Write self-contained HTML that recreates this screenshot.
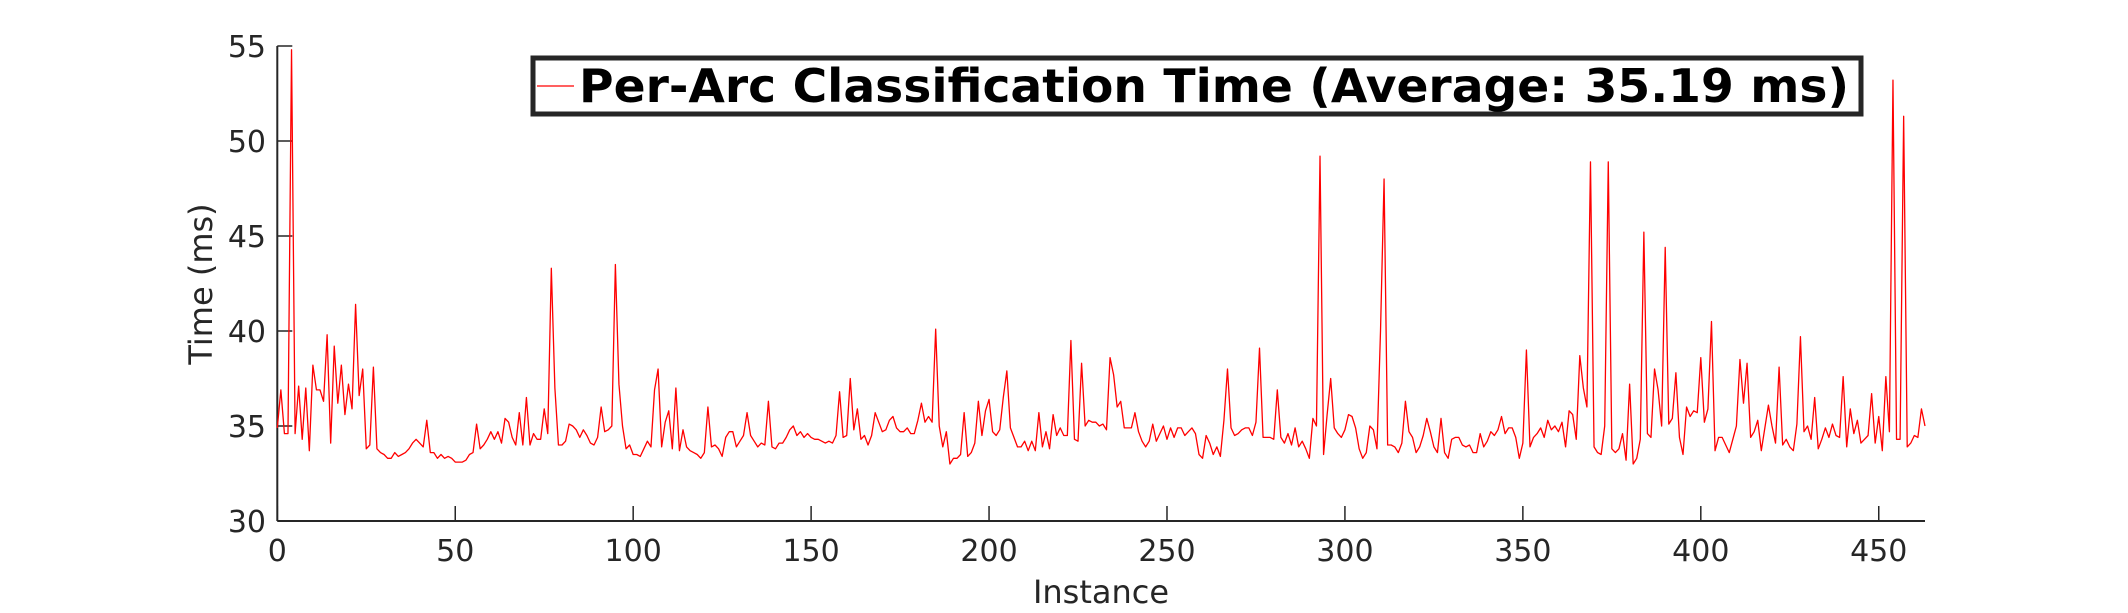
<!DOCTYPE html>
<html><head><meta charset="utf-8"><style>
html,body{margin:0;padding:0;background:#fff;}
svg{display:block;font-family:"DejaVu Sans","Liberation Sans",sans-serif;}
</style></head><body>
<svg id="chart" width="2128" height="613" viewBox="0 0 2128 613" xmlns="http://www.w3.org/2000/svg">
<rect width="2128" height="613" fill="#fff"/>
<g id="axes"></g>
<polyline id="series" fill="none" stroke="#ff0000" stroke-width="1.3" stroke-linejoin="round"/>
<g>
<rect x="533" y="58" width="1328" height="56" fill="#fff" stroke="#262626" stroke-width="5"/>
<line x1="537" y1="86" x2="574" y2="86" stroke="#ff0000" stroke-width="1.3"/>
<text x="579" y="102" font-size="46" font-weight="bold" fill="#000" textLength="1270" lengthAdjust="spacingAndGlyphs">Per-Arc Classification Time (Average: 35.19 ms)</text>
</g>
<text x="0" y="0" transform="translate(212,284) rotate(-90)" text-anchor="middle" font-size="32" fill="#262626">Time (ms)</text>
<text x="1101" y="603" text-anchor="middle" font-size="32" fill="#262626">Instance</text>
</svg>
<script>
const xTicks = [0,50,100,150,200,250,300,350,400,450];
const yTicks = [30,35,40,45,50,55];
const times = [
34.9,36.9,34.6,34.6,54.8,34.6,37.1,34.3,37.0,33.7,38.2,36.9,36.9,36.3,39.8,34.1,39.2,36.2,38.2,35.6,
37.2,35.9,41.4,36.6,38.0,33.8,34.0,38.1,33.8,33.6,33.5,33.3,33.3,33.6,33.4,33.5,33.6,33.8,34.1,34.3,
34.1,33.9,35.3,33.6,33.6,33.3,33.5,33.3,33.4,33.3,33.1,33.1,33.1,33.2,33.5,33.6,35.1,33.8,34.0,34.3,
34.7,34.3,34.7,34.1,35.4,35.2,34.4,34.0,35.7,34.0,36.5,34.0,34.6,34.3,34.3,35.9,34.6,43.3,37.0,34.0,
34.0,34.2,35.1,35.0,34.8,34.4,34.8,34.5,34.1,34.0,34.4,36.0,34.7,34.8,35.0,43.5,37.2,35.0,33.8,34.0,
33.5,33.5,33.4,33.8,34.2,33.9,36.9,38.0,33.9,35.2,35.8,33.8,37.0,33.7,34.8,33.9,33.7,33.6,33.5,33.3,
33.6,36.0,33.9,34.0,33.8,33.4,34.4,34.7,34.7,33.9,34.2,34.5,35.7,34.5,34.2,33.9,34.1,34.0,36.3,33.9,
33.8,34.1,34.1,34.4,34.8,35.0,34.5,34.7,34.4,34.6,34.4,34.3,34.3,34.2,34.1,34.2,34.1,34.5,36.8,34.4,
34.5,37.5,34.8,35.9,34.3,34.5,34.0,34.5,35.7,35.2,34.7,34.8,35.3,35.5,34.9,34.7,34.7,34.9,34.6,34.6,
35.3,36.2,35.2,35.5,35.2,40.1,35.0,33.9,34.7,33.0,33.3,33.3,33.5,35.7,33.4,33.6,34.1,36.3,34.5,35.8,
36.4,34.7,34.5,34.8,36.5,37.9,34.9,34.4,33.9,33.9,34.2,33.7,34.2,33.7,35.7,33.9,34.7,33.8,35.6,34.5,
34.9,34.5,34.5,39.5,34.3,34.2,38.3,35.0,35.3,35.2,35.2,35.0,35.1,34.8,38.6,37.7,36.0,36.3,34.9,34.9,
34.9,35.7,34.7,34.2,33.9,34.2,35.1,34.2,34.6,35.0,34.3,34.9,34.4,34.9,34.9,34.5,34.7,34.9,34.6,33.5,
33.3,34.5,34.1,33.5,33.9,33.4,35.3,38.0,34.9,34.5,34.6,34.8,34.9,34.9,34.5,35.2,39.1,34.4,34.4,34.4,
34.3,36.9,34.4,34.1,34.6,34.0,34.9,33.9,34.2,33.8,33.3,35.4,35.0,49.2,33.5,35.6,37.5,34.9,34.6,34.4,
34.8,35.6,35.5,34.9,33.8,33.3,33.6,35.0,34.8,33.8,40.0,48.0,34.0,34.0,33.9,33.6,34.1,36.3,34.7,34.4,
33.6,33.9,34.5,35.4,34.7,33.9,33.6,35.4,33.6,33.3,34.3,34.4,34.4,34.0,33.9,34.0,33.6,33.6,34.6,33.9,
34.2,34.7,34.5,34.8,35.5,34.6,34.9,34.9,34.4,33.3,34.1,39.0,33.9,34.4,34.6,34.9,34.4,35.3,34.8,35.0,
34.7,35.2,33.9,35.8,35.6,34.3,38.7,37.0,36.0,48.9,33.9,33.6,33.5,35.0,48.9,33.8,33.6,33.8,34.6,33.2,
37.2,33.0,33.3,34.3,45.2,34.6,34.4,38.0,36.9,35.0,44.4,35.1,35.4,37.8,34.4,33.5,36.0,35.5,35.8,35.7,
38.6,35.2,35.9,40.5,33.7,34.4,34.4,34.0,33.6,34.3,35.0,38.5,36.2,38.3,34.4,34.7,35.3,33.7,34.9,36.1,
35.0,34.1,38.1,34.0,34.3,33.9,33.7,35.1,39.7,34.7,35.0,34.3,36.5,33.8,34.3,34.9,34.4,35.1,34.5,34.4,
37.6,33.9,35.9,34.6,35.3,34.1,34.3,34.5,36.7,34.1,35.5,33.7,37.6,34.7,53.2,34.3,34.3,51.3,33.9,34.1,
34.5,34.4,35.9,35.0
];
const X0=277.3, X1=1925, XMAX=463, Y0=521, Y1=46, YMIN=30, YMAX=55;
const sx = v => X0 + (v/XMAX)*(X1-X0);
const sy = v => Y0 - (v-YMIN)/(YMAX-YMIN)*(Y0-Y1);
const NS="http://www.w3.org/2000/svg";
const axes=document.getElementById('axes');
function mk(tag, attrs){const e=document.createElementNS(NS,tag);for(const k in attrs)e.setAttribute(k,attrs[k]);return e;}
const xl=mk('line',{x1:X0,y1:Y0,x2:X1,y2:Y0,stroke:'#262626','stroke-width':2});


axes.appendChild(xl);
const yl=mk('line',{x1:X0,y1:Y0,x2:X0,y2:Y1,stroke:'#262626','stroke-width':2});


axes.appendChild(yl);
xTicks.forEach(t=>{
  const x=sx(t);
  const tk=mk('line',{x1:x,y1:Y0,x2:x,y2:Y0-15,stroke:'#262626','stroke-width':1.5});
  
  
  axes.appendChild(tk);
  const tx=mk('text',{x:x,y:561,'text-anchor':'middle','font-size':30,fill:'#262626'});
  
  
  tx.textContent=t; axes.appendChild(tx);
});
yTicks.forEach(t=>{
  const y=sy(t);
  const tk=mk('line',{x1:X0,y1:y,x2:X0+15,y2:y,stroke:'#262626','stroke-width':1.5});
  
  
  axes.appendChild(tk);
  const tx=mk('text',{x:266,y:y+11,'text-anchor':'end','font-size':30,fill:'#262626'});
  
  
  tx.textContent=t; axes.appendChild(tx);
});
document.getElementById('series').setAttribute('points', times.map((v,i)=>sx(i).toFixed(2)+','+sy(v).toFixed(2)).join(' '));
</script>
</body></html>
